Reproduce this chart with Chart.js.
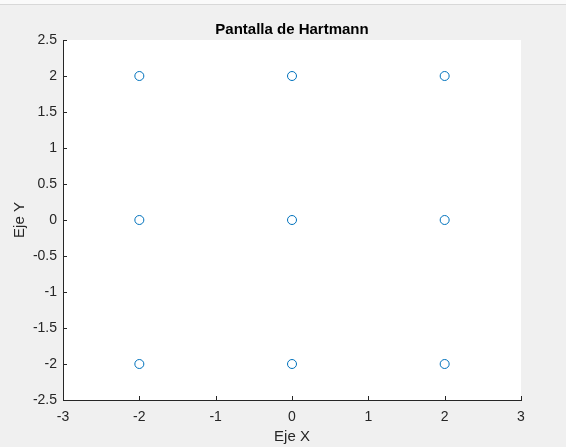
<!DOCTYPE html>
<html>
<head>
<meta charset="utf-8">
<title>Pantalla de Hartmann</title>
<script src="https://cdn.jsdelivr.net/npm/chart.js@4"></script>
<style>
    html, body { margin: 0; padding: 0; background: #f0f0f0; }
    #wrap { position: relative; width: 566px; height: 447px; }
    #topbar { position: absolute; left: 0; top: 0; width: 566px; height: 4px; background: #fafafa; border-bottom: 1px solid #d8d8d8; }
    #hartmannChart { position: absolute; left: 0; top: 0; }
</style>
</head>
<body>
<div id="wrap">
    <canvas id="hartmannChart" width="566" height="447"></canvas>
    <div id="topbar"></div>
</div>
<script>
// Hartmann screen hole positions (3 x 3 grid)
const holeX = [-2, 0, 2, -2, 0, 2, -2, 0, 2];
const holeY = [2, 2, 2, 0, 0, 0, -2, -2, -2];

// Axis ticks
const xTicks = [-3, -2, -1, 0, 1, 2, 3];
const yTicks = [-2.5, -2, -1.5, -1, -0.5, 0, 0.5, 1, 1.5, 2, 2.5];

const axisColor = '#262626';
const fontFamily = '"Liberation Sans", Arial, Helvetica, sans-serif';

// White plot area + MATLAB style inward ticks
const axesPlugin = {
    id: 'axesPlugin',
    beforeDraw(chart) {
        const a = chart.chartArea;
        const ctx = chart.ctx;
        ctx.save();
        ctx.fillStyle = '#ffffff';
        ctx.fillRect(a.left, a.top, a.right - a.left, a.bottom - a.top);
        ctx.restore();
    },
    afterDraw(chart) {
        const a = chart.chartArea;
        const ctx = chart.ctx;
        const len = 4;
        ctx.save();
        ctx.strokeStyle = axisColor;
        ctx.lineWidth = 1;
        ctx.beginPath();
        chart.scales.x.ticks.forEach(t => {
            const px = Math.round(chart.scales.x.getPixelForValue(t.value)) + 0.5;
            ctx.moveTo(px, a.bottom);
            ctx.lineTo(px, a.bottom - len);
        });
        chart.scales.y.ticks.forEach(t => {
            const py = Math.round(chart.scales.y.getPixelForValue(t.value)) + 0.5;
            ctx.moveTo(a.left, py);
            ctx.lineTo(a.left + len, py);
        });
        ctx.stroke();
        ctx.restore();
    }
};

const ctx = document.getElementById('hartmannChart').getContext('2d');
const points = holeX.map((x, i) => ({ x: x, y: holeY[i] }));

new Chart(ctx, {
    type: 'scatter',
    data: {
        datasets: [{
            data: points,
            pointStyle: 'circle',
            pointRadius: 4.5,
            pointHoverRadius: 4.5,
            pointBorderWidth: 1,
            borderColor: '#0072BD',
            backgroundColor: 'rgba(0,0,0,0)'
        }]
    },
    options: {
        responsive: false,
        animation: false,
        events: [],
        layout: { padding: { left: 0, right: 45, top: 0, bottom: 0 } },
        plugins: {
            legend: { display: false },
            tooltip: { enabled: false },
            title: {
                display: true,
                text: 'Pantalla de Hartmann',
                fullSize: false,
                color: '#000000',
                font: { family: fontFamily, size: 15, weight: 'bold', lineHeight: 1.2 },
                padding: { top: 21, bottom: 1 }
            }
        },
        scales: {
            x: {
                type: 'linear',
                min: -3,
                max: 3,
                afterBuildTicks: s => { s.ticks = xTicks.map(v => ({ value: v })); },
                afterFit: s => { s.height = 47; },
                grid: { display: false, drawTicks: false },
                border: { display: true, color: axisColor, width: 1 },
                ticks: {
                    color: axisColor,
                    padding: 9,
                    maxRotation: 0,
                    callback: v => String(v),
                    font: { family: fontFamily, size: 14, lineHeight: 1.2 }
                },
                title: {
                    display: true,
                    text: 'Eje X',
                    color: axisColor,
                    font: { family: fontFamily, size: 15, lineHeight: 1.2 },
                    padding: { top: 0, bottom: 1 }
                }
            },
            y: {
                type: 'linear',
                min: -2.5,
                max: 2.5,
                afterBuildTicks: s => { s.ticks = yTicks.map(v => ({ value: v })); },
                afterFit: s => { s.width = 63; },
                grid: { display: false, drawTicks: false },
                border: { display: true, color: axisColor, width: 1 },
                ticks: {
                    color: axisColor,
                    padding: 6,
                    callback: v => String(v),
                    font: { family: fontFamily, size: 14, lineHeight: 1.2 }
                },
                title: {
                    display: true,
                    text: 'Eje Y',
                    color: axisColor,
                    font: { family: fontFamily, size: 15, lineHeight: 1.2 },
                    padding: { top: 11, bottom: 0 }
                }
            }
        }
    },
    plugins: [axesPlugin]
});
</script>
</body>
</html>
